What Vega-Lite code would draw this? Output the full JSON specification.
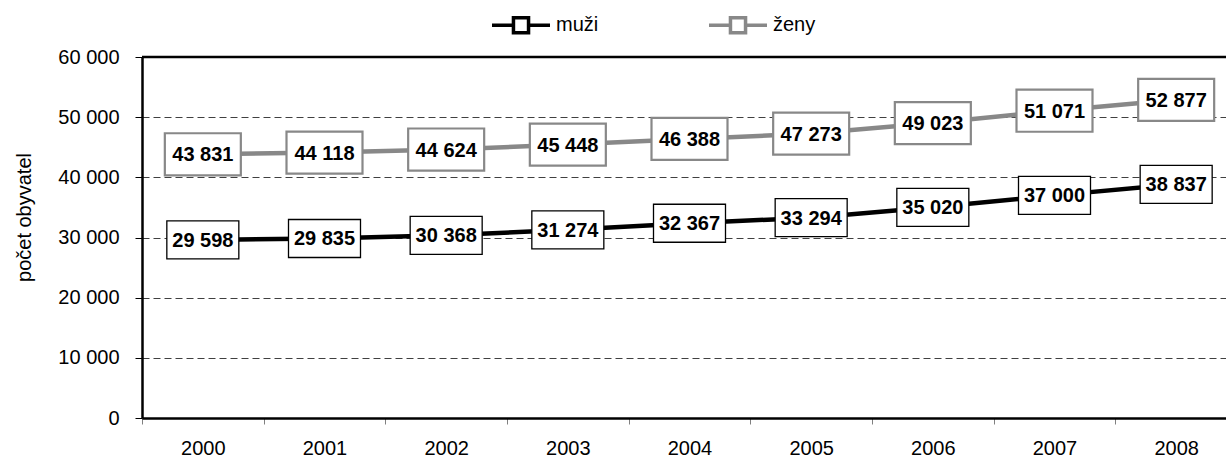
{
  "$schema": "https://vega.github.io/schema/vega-lite/v6.json",
  "autosize": {"type": "none"},
  "width": 1084,
  "height": 361,
  "padding": {"left": 142, "top": 57, "right": 0, "bottom": 39},
  "background": "white",
  "config": {
    "locale": {"number": {"decimal": ",", "thousands": " ", "grouping": [3], "currency": ["", " Kč"]}},
    "font": "Liberation Sans",
    "view": {"stroke": null},
    "axis": {"labelFont": "Liberation Sans", "titleFont": "Liberation Sans", "labelColor": "black", "titleColor": "black"}
  },
  "data": {
    "values": [
      {"year": "2000", "series": "muži", "value": 29598},
      {"year": "2001", "series": "muži", "value": 29835},
      {"year": "2002", "series": "muži", "value": 30368},
      {"year": "2003", "series": "muži", "value": 31274},
      {"year": "2004", "series": "muži", "value": 32367},
      {"year": "2005", "series": "muži", "value": 33294},
      {"year": "2006", "series": "muži", "value": 35020},
      {"year": "2007", "series": "muži", "value": 37000},
      {"year": "2008", "series": "muži", "value": 38837},
      {"year": "2000", "series": "ženy", "value": 43831},
      {"year": "2001", "series": "ženy", "value": 44118},
      {"year": "2002", "series": "ženy", "value": 44624},
      {"year": "2003", "series": "ženy", "value": 45448},
      {"year": "2004", "series": "ženy", "value": 46388},
      {"year": "2005", "series": "ženy", "value": 47273},
      {"year": "2006", "series": "ženy", "value": 49023},
      {"year": "2007", "series": "ženy", "value": 51071},
      {"year": "2008", "series": "ženy", "value": 52877}
    ]
  },
  "layer": [
    {
      "mark": {"type": "line", "strokeWidth": 4.5},
      "encoding": {
        "x": {
          "field": "year", "type": "ordinal",
          "scale": {"type": "band", "range": [0, 1095], "paddingInner": 0, "paddingOuter": 0},
          "axis": {
            "title": null, "labelAngle": 0, "labelFontSize": 20, "labelPadding": 14,
            "tickBand": "extent", "tickColor": "#808080", "tickSize": 6, "tickWidth": 1,
            "domainColor": "black", "domainWidth": 2.5, "grid": false
          }
        },
        "y": {
          "field": "value", "type": "quantitative",
          "scale": {"domain": [0, 60000], "nice": false},
          "axis": {
            "title": "počet obyvatel", "titleFontSize": 20, "titleFontWeight": "normal",
            "titleAngle": -90, "titleAlign": "center", "titleBaseline": "middle",
            "titleX": -118, "titleY": 160,
            "values": [0, 10000, 20000, 30000, 40000, 50000, 60000],
            "format": ",.0f", "labelFontSize": 20, "labelPadding": 16,
            "tickColor": "black", "tickSize": 7, "tickWidth": 1,
            "domainColor": "black", "domainWidth": 2.5,
            "grid": true, "gridDash": [7, 4], "gridColor": "#404040", "gridWidth": 1
          }
        },
        "color": {
          "field": "series", "type": "nominal",
          "scale": {"domain": ["muži", "ženy"], "range": ["#000000", "#888888"]},
          "legend": {
            "orient": "none", "legendX": 348, "legendY": -63, "direction": "horizontal",
            "title": null, "padding": 0,
            "symbolType": "M-1,0L-0.26,0M0.26,0L1,0M-0.26,-0.26L0.26,-0.26L0.26,0.26L-0.26,0.26Z",
            "symbolSize": 3364, "symbolStrokeWidth": 3.5, "symbolFillColor": "white",
            "labelFontSize": 20, "labelFont": "Liberation Sans", "labelColor": "black",
            "labelOffset": 4, "columnPadding": 103
          }
        }
      }
    },
    {
      "transform": [{"filter": "datum.series === 'ženy'"}],
      "mark": {"type": "point", "shape": "M-1,-0.553L1,-0.553L1,0.553L-1,0.553Z", "size": 5776, "filled": true, "fill": "white", "stroke": "#888888", "strokeWidth": 2.2, "opacity": 1},
      "encoding": {
        "x": {"field": "year", "type": "ordinal"},
        "y": {"field": "value", "type": "quantitative"}
      }
    },
    {
      "transform": [{"filter": "datum.series === 'muži'"}],
      "mark": {"type": "point", "shape": "M-1,-0.528L1,-0.528L1,0.528L-1,0.528Z", "size": 5184, "filled": true, "fill": "white", "stroke": "black", "strokeWidth": 1.3, "opacity": 1},
      "encoding": {
        "x": {"field": "year", "type": "ordinal"},
        "y": {"field": "value", "type": "quantitative"}
      }
    },
    {
      "mark": {"type": "text", "font": "Liberation Sans", "fontSize": 20, "fontWeight": "bold", "baseline": "middle", "align": "center", "dy": 1, "color": "black"},
      "encoding": {
        "x": {"field": "year", "type": "ordinal"},
        "y": {"field": "value", "type": "quantitative"},
        "text": {"field": "value", "type": "quantitative", "format": ",.0f"}
      }
    },
    {
      "data": {"values": [{"value": 60000}]},
      "mark": {"type": "rule", "color": "black", "strokeWidth": 2.5},
      "encoding": {
        "y": {"field": "value", "type": "quantitative"}
      }
    }
  ]
}
